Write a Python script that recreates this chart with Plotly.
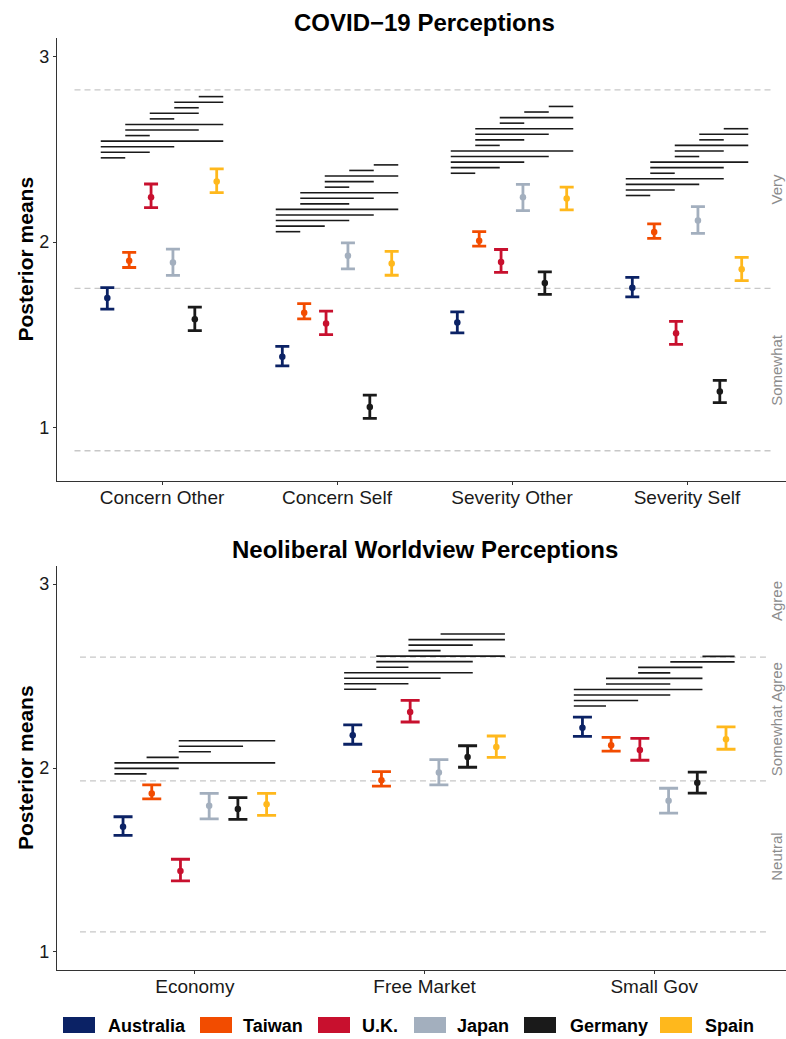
import plotly.graph_objects as go

# ---------------- data ----------------
countries = ["Australia", "Taiwan", "U.K.", "Japan", "Germany", "Spain"]
colors = ["#0B2265", "#F24C00", "#C8102E", "#A3AFBE", "#1A1A1A", "#FFB81C"]

covid_cats = ["Concern Other", "Concern Self", "Severity Other", "Severity Self"]
# rows = countries, cols = categories
covid_mean = [
    [1.698, 1.382, 1.566, 1.754],
    [1.899, 1.619, 2.007, 2.054],
    [2.242, 1.561, 1.892, 1.509],
    [1.890, 1.926, 2.242, 2.116],
    [1.584, 1.111, 1.779, 1.194],
    [2.327, 1.884, 2.235, 1.854],
]
covid_low = [
    [1.638, 1.333, 1.511, 1.704],
    [1.863, 1.586, 1.978, 2.020],
    [2.186, 1.501, 1.837, 1.449],
    [1.820, 1.855, 2.170, 2.047],
    [1.523, 1.050, 1.718, 1.134],
    [2.267, 1.821, 2.173, 1.792],
]
covid_high = [
    [1.754, 1.438, 1.624, 1.810],
    [1.944, 1.668, 2.056, 2.098],
    [2.313, 1.628, 1.960, 1.573],
    [1.962, 1.996, 2.311, 2.191],
    [1.649, 1.175, 1.839, 1.254],
    [2.394, 1.950, 2.296, 1.917],
]
covid_cutpoints = [0.875, 1.75, 2.82]
covid_levels = ["Somewhat", "Very"]
covid_level_pos = [1.3125, 2.285]

neo_cats = ["Economy", "Free Market", "Small Gov"]
neo_mean = [
    [1.681, 2.178, 2.219],
    [1.862, 1.933, 2.123],
    [1.440, 2.304, 2.098],
    [1.795, 1.975, 1.822],
    [1.777, 2.060, 1.920],
    [1.803, 2.114, 2.156],
]
neo_low = [
    [1.634, 2.129, 2.172],
    [1.832, 1.902, 2.092],
    [1.386, 2.250, 2.042],
    [1.724, 1.908, 1.755],
    [1.721, 2.004, 1.863],
    [1.743, 2.058, 2.102],
]
neo_high = [
    [1.735, 2.234, 2.277],
    [1.908, 1.980, 2.167],
    [1.504, 2.368, 2.161],
    [1.862, 2.045, 1.890],
    [1.839, 2.121, 1.978],
    [1.862, 2.174, 2.224],
]
neo_cutpoints = [1.109, 1.93, 2.603]
neo_levels = ["Neutral", "Somewhat Agree", "Agree"]
neo_level_pos = [1.52, 2.267, 2.91]

# significant pairwise differences (bottom to top), per category
covid_sig = [
    [("Australia", "Taiwan"), ("Australia", "U.K."), ("Australia", "Japan"), ("Australia", "Spain"),
     ("Taiwan", "U.K."), ("Taiwan", "Germany"), ("Taiwan", "Spain"), ("U.K.", "Japan"),
     ("U.K.", "Germany"), ("Japan", "Germany"), ("Japan", "Spain"), ("Germany", "Spain")],
    [("Australia", "Taiwan"), ("Australia", "U.K."), ("Australia", "Japan"), ("Australia", "Germany"),
     ("Australia", "Spain"), ("Taiwan", "Japan"), ("Taiwan", "Germany"), ("Taiwan", "Spain"),
     ("U.K.", "Japan"), ("U.K.", "Germany"), ("U.K.", "Spain"), ("Japan", "Germany"), ("Germany", "Spain")],
    [("Australia", "Taiwan"), ("Australia", "U.K."), ("Australia", "Japan"), ("Australia", "Germany"),
     ("Australia", "Spain"), ("Taiwan", "U.K."), ("Taiwan", "Japan"), ("Taiwan", "Germany"),
     ("Taiwan", "Spain"), ("U.K.", "Japan"), ("U.K.", "Spain"), ("Japan", "Germany"), ("Germany", "Spain")],
    [("Australia", "Taiwan"), ("Australia", "U.K."), ("Australia", "Japan"), ("Australia", "Germany"),
     ("Taiwan", "U.K."), ("Taiwan", "Germany"), ("Taiwan", "Spain"), ("U.K.", "Japan"),
     ("U.K.", "Germany"), ("U.K.", "Spain"), ("Japan", "Germany"), ("Japan", "Spain"), ("Germany", "Spain")],
]
neo_sig = [
    [("Australia", "Taiwan"), ("Australia", "U.K."), ("Australia", "Spain"), ("Taiwan", "U.K."),
     ("U.K.", "Japan"), ("U.K.", "Germany"), ("U.K.", "Spain")],
    [("Australia", "Taiwan"), ("Australia", "U.K."), ("Australia", "Japan"), ("Australia", "Germany"),
     ("Taiwan", "U.K."), ("Taiwan", "Germany"), ("Taiwan", "Spain"), ("U.K.", "Japan"),
     ("U.K.", "Germany"), ("U.K.", "Spain"), ("Japan", "Spain")],
    [("Australia", "Taiwan"), ("Australia", "U.K."), ("Australia", "Japan"), ("Australia", "Germany"),
     ("Taiwan", "Japan"), ("Taiwan", "Germany"), ("U.K.", "Japan"), ("U.K.", "Germany"),
     ("Japan", "Spain"), ("Germany", "Spain")],
]

# ---------------- styling / layout ----------------
FONT = "Liberation Sans, Arial, Helvetica, sans-serif"
W, H = 786, 1039
ML, MR, MT, MB = 57, 0, 38, 69
PW = W - ML - MR
PH = H - MT - MB
DODGE = 0.125      # point dodge per country
SEG = 0.14         # significance segment spacing per country
STEP = 0.03        # vertical spacing of significance segments
GAP = 0.06         # gap above highest CI
n = len(countries)

fig = go.Figure()


def add_panel(cats, means, lows, highs, sig, xa, ya):
    for k, c in enumerate(countries):
        xs = [i + 1 + (k - (n - 1) / 2) * DODGE for i in range(len(cats))]
        fig.add_trace(go.Scatter(
            x=xs, y=means[k], mode="markers", name=c, showlegend=False,
            marker=dict(color=colors[k], size=6.5),
            error_y=dict(type="data", symmetric=False,
                         array=[h - m for h, m in zip(highs[k], means[k])],
                         arrayminus=[m - l for m, l in zip(means[k], lows[k])],
                         color=colors[k], thickness=2.8,
                         width=7 if xa == "x" else 9.5),
            xaxis=xa, yaxis=ya, cliponaxis=False, hoverinfo="skip"))
    sx, sy = [], []
    for i, pairs in enumerate(sig):
        base = max(highs[k][i] for k in range(n)) + GAP
        for j, (a, b) in enumerate(pairs):
            ka, kb = countries.index(a), countries.index(b)
            y = base + j * STEP
            sx += [i + 1 + (ka - (n - 1) / 2) * SEG, i + 1 + (kb - (n - 1) / 2) * SEG, None]
            sy += [y, y, None]
    fig.add_trace(go.Scatter(x=sx, y=sy, mode="lines", showlegend=False,
                             line=dict(color="#1a1a1a", width=1.6),
                             xaxis=xa, yaxis=ya, hoverinfo="skip"))


add_panel(covid_cats, covid_mean, covid_low, covid_high, covid_sig, "x", "y")
add_panel(neo_cats, neo_mean, neo_low, neo_high, neo_sig, "x2", "y2")

shapes = []
annotations = []


def cut_lines(cuts, ncat, xref, yref):
    for v in cuts:
        shapes.append(dict(type="line", xref=xref, yref=yref, x0=0.5, x1=ncat + 0.5,
                           y0=v, y1=v, line=dict(color="#c8c8c8", width=1.3, dash="6px,4px"),
                           layer="below"))


cut_lines(covid_cutpoints, len(covid_cats), "x", "y")
cut_lines(neo_cutpoints, len(neo_cats), "x2", "y2")

for lab, pos in zip(covid_levels, covid_level_pos):
    annotations.append(dict(text=lab, x=len(covid_cats) + 0.51, y=pos, xref="x", yref="y",
                            textangle=-90, showarrow=False, xanchor="center", yanchor="middle",
                            font=dict(family=FONT, size=15, color="#8c8c8c")))
for lab, pos in zip(neo_levels, neo_level_pos):
    annotations.append(dict(text=lab, x=len(neo_cats) + 0.532, y=pos, xref="x2", yref="y2",
                            textangle=-90, showarrow=False, xanchor="center", yanchor="middle",
                            font=dict(family=FONT, size=15, color="#8c8c8c")))


def px_x(px):
    return (px - ML) / PW


def px_y(py):
    return (H - MB - py) / PH


# titles
annotations.append(dict(text="<b>COVID\u221219 Perceptions</b>", x=px_x(425), y=px_y(22),
                        xref="paper", yref="paper", showarrow=False, xanchor="center", yanchor="middle",
                        font=dict(family=FONT, size=24, color="#000")))
annotations.append(dict(text="<b>Neoliberal Worldview Perceptions</b>", x=px_x(425), y=px_y(549),
                        xref="paper", yref="paper", showarrow=False, xanchor="center", yanchor="middle",
                        font=dict(family=FONT, size=24, color="#000")))
for yc in (259.5, 768):
    annotations.append(dict(text="<b>Posterior means</b>", x=px_x(25), y=px_y(yc),
                            xref="paper", yref="paper", showarrow=False, textangle=-90,
                            xanchor="center", yanchor="middle",
                            font=dict(family=FONT, size=21, color="#000")))

# manual legend
sw_x = [63, 200, 318, 414, 524, 660]
tx_x = [107, 242, 361, 456, 569, 704]
for k, c in enumerate(countries):
    shapes.append(dict(type="rect", xref="paper", yref="paper",
                       x0=px_x(sw_x[k]), x1=px_x(sw_x[k] + 32),
                       y0=px_y(1033), y1=px_y(1017),
                       fillcolor=colors[k], line=dict(width=0)))
    annotations.append(dict(text="<b>" + c + "</b>", x=px_x(tx_x[k] - 1), y=px_y(1025.5),
                            xref="paper", yref="paper", showarrow=False,
                            xanchor="left", yanchor="middle",
                            font=dict(family=FONT, size=18, color="#000")))

axis_common = dict(showline=True, linecolor="#333333", linewidth=1.3, ticks="outside",
                   ticklen=3, tickcolor="#333333", tickwidth=1.2, showgrid=False, zeroline=False,
                   tickfont=dict(family=FONT, color="#1a1a1a"))

fig.update_layout(
    width=W, height=H, autosize=False,
    margin=dict(l=ML, r=MR, t=MT, b=MB),
    paper_bgcolor="white", plot_bgcolor="white",
    showlegend=False,
    xaxis=dict(axis_common, domain=[0, 1], range=[0.4, 0.4 + PW / 175.0], anchor="y",
               tickmode="array", tickvals=list(range(1, len(covid_cats) + 1)), ticktext=covid_cats,
               ticklabelstandoff=-4,
               tickfont=dict(family=FONT, size=19, color="#1a1a1a")),
    yaxis=dict(axis_common, domain=[px_y(481), 1], range=[0.712, 3.10], anchor="x",
               tickmode="array", tickvals=[1, 2, 3],
               tickfont=dict(family=FONT, size=18, color="#1a1a1a")),
    xaxis2=dict(axis_common, domain=[0, 1], range=[0.4, 0.4 + PW / 229.7], anchor="y2",
                tickmode="array", tickvals=list(range(1, len(neo_cats) + 1)), ticktext=neo_cats,
                ticklabelstandoff=-4,
                tickfont=dict(family=FONT, size=19, color="#1a1a1a")),
    yaxis2=dict(axis_common, domain=[0, px_y(566)], range=[0.902, 3.098], anchor="x2",
                tickmode="array", tickvals=[1, 2, 3],
                tickfont=dict(family=FONT, size=18, color="#1a1a1a")),
    shapes=shapes,
    annotations=annotations,
)

fig.write_html("out.html", config={"displayModeBar": False},
               post_script="document.body.style.margin='0';document.body.style.overflow='hidden';")
